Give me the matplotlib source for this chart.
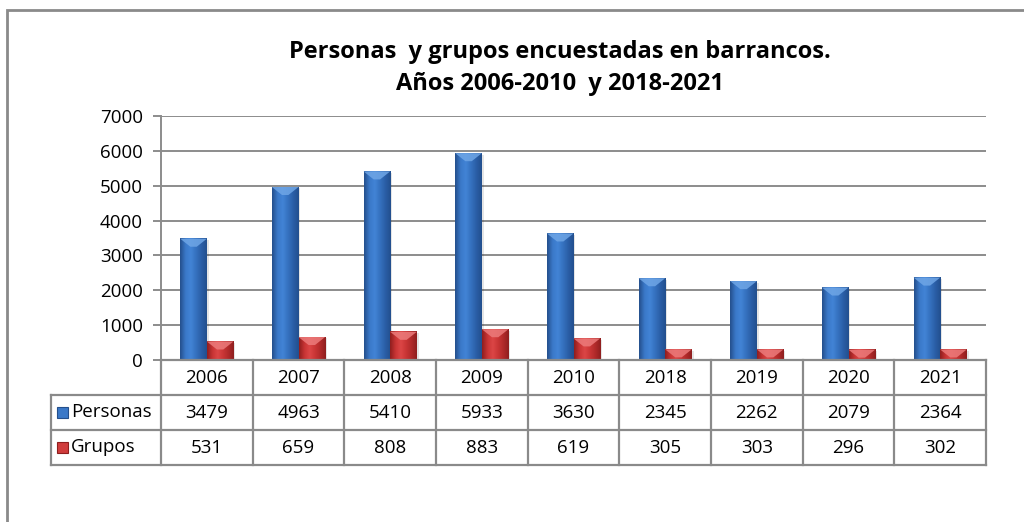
import numpy as np
import matplotlib
matplotlib.use("Agg")
import matplotlib.pyplot as plt
from matplotlib.colors import LinearSegmentedColormap
from matplotlib.patches import Rectangle, Polygon
from matplotlib.lines import Line2D

years = ["2006", "2007", "2008", "2009", "2010", "2018", "2019", "2020", "2021"]
personas = [3479, 4963, 5410, 5933, 3630, 2345, 2262, 2079, 2364]
grupos = [531, 659, 808, 883, 619, 305, 303, 296, 302]
series_names = ["Personas", "Grupos"]
title = "Personas  y grupos encuestadas en barrancos.\nAños 2006-2010  y 2018-2021"
yticks = [0, 1000, 2000, 3000, 4000, 5000, 6000, 7000]

FONT = ["Open Sans", "DejaVu Sans"]
plt.rcParams["font.family"] = FONT
FS = 13.5

W, H = 1024, 522
fig = plt.figure(figsize=(W / 100, H / 100), dpi=100)

def fx(px):
    return px / W

def fy(py):
    return 1 - py / H

# outer frame (cut at right/bottom)
fig.patches.append(Rectangle((fx(7), fy(530)), fx(1030) - fx(7), fy(10) - fy(530),
                             transform=fig.transFigure, fill=False,
                             edgecolor="#8a8a8a", linewidth=2.0))

left, right, top, bottom = 161, 986, 116, 360
ax = fig.add_axes([fx(left), fy(bottom), fx(right) - fx(left), fy(top) - fy(bottom)])

blue_cmap = LinearSegmentedColormap.from_list(
    "b", ["#244f8c", "#3a78c8", "#4284d6", "#3571bf", "#2a5ea6", "#234f8e"])
red_cmap = LinearSegmentedColormap.from_list(
    "r", ["#8f1e1e", "#c83434", "#dc4646", "#c93535", "#b02a2a", "#8f1f1f"])
grad = np.linspace(0, 1, 64).reshape(1, -1)

bw = 0.29
x = np.arange(len(years))
for i in x:
    for vals, off, cmap, light in ((personas, -bw, blue_cmap, "#6fa6e6"),
                                    (grupos, 0.0, red_cmap, "#ec7b7b")):
        v = vals[i]
        x0, x1 = i + off, i + off + bw
        ax.add_patch(Rectangle((x0 + 0.02, 0), bw, v - 40, facecolor="#000000",
                               alpha=0.10, edgecolor="none", zorder=2.5))
        ax.imshow(grad, extent=[x0, x1, 0, v], aspect="auto", cmap=cmap,
                  zorder=3, interpolation="bicubic")
        d = 7000 * 8 / 244
        ax.add_patch(Polygon([[x0, v], [x1, v], [x1 - 0.38 * bw, v - d],
                              [x0 + 0.38 * bw, v - d]], closed=True,
                             facecolor=light, edgecolor="none", zorder=4, alpha=0.85))

ax.set_xlim(-0.5, len(years) - 0.5)
ax.set_ylim(0, 7000)
ax.set_yticks(yticks)
ax.set_yticklabels([str(t) for t in yticks], fontsize=FS)
ax.yaxis.grid(True, color="#8c8c8c", linewidth=1.4, zorder=0)
ax.set_axisbelow(True)
ax.set_xticks([])
for s in ("top", "right", "bottom"):
    ax.spines[s].set_visible(False)
ax.spines["left"].set_color("#8c8c8c")
ax.spines["left"].set_linewidth(1.4)
ax.tick_params(axis="y", length=6, color="#8c8c8c", width=1.4, pad=7)
ax.axhline(0, color="#8c8c8c", linewidth=1.4, zorder=1)

# data table drawn below axes
lc = "#8a8a8a"
lw = 1.6
rowpx = [360, 395, 430, 465]
n = len(years)

def xpx(i):
    return left + (right - left) * (i / n)

def add_line(x0, y0, x1, y1):
    fig.lines.append(Line2D([fx(x0), fx(x1)], [fy(y0), fy(y1)],
                            transform=fig.transFigure, color=lc, linewidth=lw))

add_line(left, 360, right, 360)
for ry in rowpx[1:]:
    add_line(51, ry, right, ry)
for i in range(n + 1):
    add_line(xpx(i), 360, xpx(i), 465)
add_line(51, 395, 51, 465)

for i, yv in enumerate(years):
    cx = (xpx(i) + xpx(i + 1)) / 2
    fig.text(fx(cx), fy(378), yv, ha="center", va="center", fontsize=FS)
    fig.text(fx(cx), fy(413), str(personas[i]), ha="center", va="center", fontsize=FS)
    fig.text(fx(cx), fy(448), str(grupos[i]), ha="center", va="center", fontsize=FS)

key_colors = [("#3a78c8", "#244f8c"), ("#d03c3c", "#8f1e1e")]
for r, (name, (c1, c2)) in enumerate(zip(series_names, key_colors)):
    cy = 412 + 35 * r
    fig.patches.append(Rectangle((fx(57), fy(cy + 6)), fx(11), fy(cy - 5) - fy(cy + 6),
                                 transform=fig.transFigure, facecolor=c1,
                                 edgecolor=c2, linewidth=0.8))
    fig.text(fx(71), fy(cy), name, ha="left", va="center", fontsize=FS)

fig.text(0.547, fy(68), title, ha="center", va="center", fontsize=17,
         fontweight="bold", linespacing=1.45)

fig.savefig("out.png", dpi=100)
